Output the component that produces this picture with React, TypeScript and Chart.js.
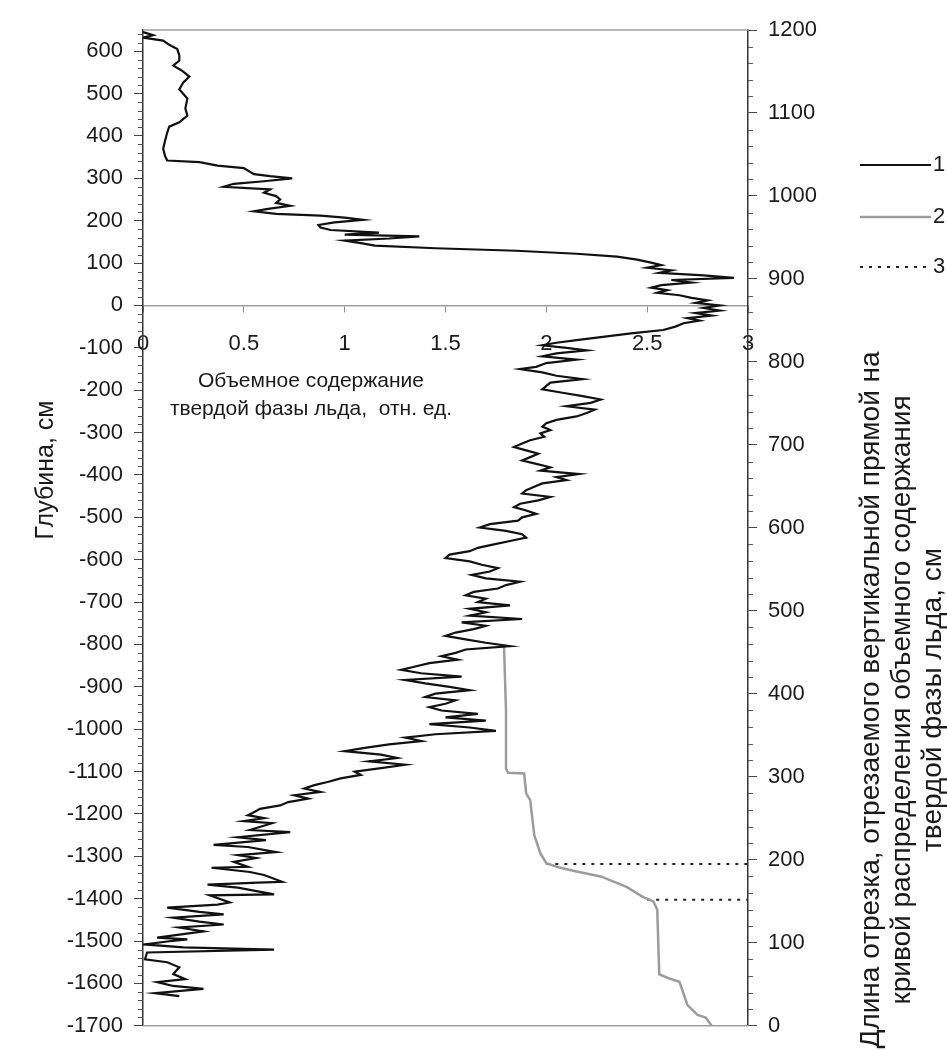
import React, { useEffect, useRef } from "react";
import { Chart, registerables } from "chart.js";

Chart.register(...registerables);

const FONT = "'Liberation Sans', Arial, sans-serif";

// Curve 1: depth of each sample, cm (left axis)
const depthCm = [
  645, 638, 632, 625, 615, 605, 590, 578, 566, 555, 540, 526, 510, 488, 465, 448, 432, 422, 408, 390,
  370, 352, 342, 338, 330, 324, 310, 305, 300, 293, 287, 280, 274, 266, 258, 250, 242, 235, 228, 222,
  216, 212, 207, 202, 196, 190, 184, 178, 172, 167, 163, 158, 153, 147, 141, 135, 129, 122, 115, 108,
  101, 95, 89, 83, 77, 71, 65, 60, 54, 48, 42, 36, 30, 24, 18, 12, 6, 0, -6, -12,
  -18, -24, -30, -36, -42, -50, -58, -66, -74, -82, -88, -94, -100, -106, -113, -120, -128, -136, -145, -150,
  -158, -166, -174, -182, -190, -198, -206, -214, -222, -230, -238, -246, -254, -262, -270, -278, -286, -294, -302, -310,
  -318, -326, -334, -342, -350, -358, -366, -374, -382, -390, -398, -405, -412, -420, -428, -436, -444, -452, -460, -468,
  -476, -484, -492, -500, -508, -516, -524, -532, -540, -548, -556, -564, -572, -580, -588, -596, -604, -612, -620, -628,
  -636, -644, -652, -660, -668, -676, -684, -692, -700, -708, -716, -724, -732, -740, -748, -756, -764, -772, -780, -788,
  -796, -804, -812, -820, -828, -836, -844, -852, -860, -868, -876, -884, -892, -900, -908, -916, -924, -932, -940, -948,
  -956, -964, -972, -980, -988, -996, -1004, -1012, -1020, -1028, -1036, -1044, -1052, -1060, -1068, -1076, -1084, -1092, -1100, -1108,
  -1116, -1124, -1132, -1140, -1148, -1156, -1164, -1172, -1180, -1188, -1196, -1203, -1210, -1217, -1222, -1238, -1243, -1255, -1262, -1273,
  -1278, -1290, -1297, -1304, -1313, -1325, -1327, -1337, -1344, -1360, -1362, -1367, -1374, -1390, -1392, -1409, -1414, -1421, -1431, -1437,
  -1445, -1454, -1461, -1468, -1477, -1492, -1496, -1501, -1508, -1515, -1520, -1527, -1543, -1550, -1562, -1578, -1590, -1597, -1606, -1613,
  -1623, -1630,
];

// Curve 1: volume fraction of the solid ice phase, rel. units
const solidFraction = [
  0.0, 0.05, 0.0, 0.1, 0.13, 0.17, 0.18, 0.18, 0.15, 0.19, 0.23, 0.2, 0.18, 0.22, 0.21, 0.22, 0.18, 0.13, 0.12, 0.11,
  0.1, 0.11, 0.12, 0.28, 0.37, 0.5, 0.55, 0.63, 0.74, 0.6, 0.45, 0.4, 0.63, 0.6, 0.66, 0.68, 0.66, 0.73, 0.62, 0.55,
  0.66, 0.88, 1.0, 1.09, 0.95, 0.87, 0.88, 0.93, 1.17, 1.0, 1.37, 1.22, 1.0, 1.08, 1.15, 1.45, 1.85, 2.15, 2.35, 2.45,
  2.52, 2.57, 2.5, 2.62, 2.56, 2.78, 2.93, 2.62, 2.72, 2.57, 2.52, 2.6, 2.55, 2.66, 2.72, 2.8, 2.74, 2.86, 2.78, 2.86,
  2.74, 2.82, 2.7, 2.76, 2.68, 2.64, 2.58, 2.42, 2.28, 2.15, 2.05, 1.98, 2.1, 2.2, 2.05, 1.98, 2.15, 2.0, 1.95, 1.87,
  1.98, 2.05, 2.18, 2.02, 2.0, 1.98, 2.08, 2.18, 2.27, 2.22, 2.1, 2.24, 2.2, 2.15, 2.05, 2.0, 1.98, 2.02, 1.97, 1.99,
  1.92, 1.88, 1.84, 1.9, 1.96, 1.92, 1.88, 1.95, 2.02, 1.97, 2.16, 2.05, 2.1, 1.98, 1.94, 1.9, 1.88, 2.02, 1.96, 1.87,
  1.84, 1.9, 1.95, 1.88, 1.86, 1.72, 1.67, 1.8, 1.88, 1.9, 1.82, 1.74, 1.66, 1.62, 1.52, 1.5, 1.62, 1.68, 1.76, 1.72,
  1.63, 1.7, 1.87, 1.8, 1.76, 1.64, 1.6, 1.7, 1.66, 1.82, 1.62, 1.7, 1.62, 1.88, 1.58, 1.7, 1.64, 1.55, 1.5, 1.6,
  1.7, 1.82, 1.6, 1.55, 1.48, 1.56, 1.42, 1.35, 1.28, 1.38, 1.58, 1.3, 1.4, 1.52, 1.62, 1.45, 1.4, 1.55, 1.5, 1.42,
  1.48, 1.66, 1.5, 1.7, 1.42, 1.62, 1.75, 1.45, 1.3, 1.38, 1.22, 1.1, 1.0, 1.18, 1.26, 1.12, 1.3, 1.18, 1.05, 1.08,
  0.98, 0.92, 0.85, 0.8, 0.88, 0.75, 0.82, 0.72, 0.68, 0.58, 0.55, 0.52, 0.6, 0.5, 0.64, 0.53, 0.73, 0.47, 0.61, 0.35,
  0.52, 0.66, 0.47, 0.56, 0.45, 0.52, 0.34, 0.53, 0.6, 0.69, 0.57, 0.32, 0.47, 0.65, 0.33, 0.43, 0.37, 0.12, 0.28, 0.4,
  0.15, 0.28, 0.4, 0.18, 0.3, 0.07, 0.22, 0.12, 0.01, 0.2, 0.65, 0.02, 0.01, 0.12, 0.18, 0.15, 0.21, 0.07, 0.15, 0.3,
  0.06, 0.18,
];

// Curve 2: threshold value (bottom axis) and segment length cut at that value, cm (right axis)
const thresholdValue = [
  1.79, 1.8, 1.8, 1.81, 1.89, 1.9, 1.92, 1.94, 1.97, 2.0, 2.06, 2.15, 2.27, 2.4, 2.48, 2.53, 2.55, 2.56, 2.61, 2.66,
  2.7, 2.75, 2.79, 2.82,
];
const segmentLength = [
  458, 380, 310, 305, 304, 280, 272, 230, 208, 196, 191, 186, 180, 167, 155, 150, 140, 62, 57, 53,
  25, 13, 10, 0,
];

// Curve 3: marked segment lengths, cm, with the thresholds where they start
const markLength = [195, 152];
const markFrom = [2.0, 2.5];
const markTo = 3;

const depthMin = -1700;
const depthMax = 650;
const depthLabelTop = 600;
const lengthMin = 0;
const lengthMax = 1200;
const valueMin = 0;
const valueMax = 3;

const legendLabels = ["1", "2", "3"];
const depthTitle = "Глубина, см";
const valueTitle = ["Объемное содержание", "твердой фазы льда,  отн. ед."];
const lengthTitle = [
  "Длина отрезка, отрезаемого вертикальной прямой на",
  "кривой распределения объемного содержания",
  "твердой фазы льда, см",
];

const decorations = {
  id: "decorations",
  beforeDatasetsDraw(chart: any) {
    const { ctx, chartArea: a } = chart;
    const yL = chart.scales.y;
    const yR = chart.scales.y2;
    ctx.save();
    // top and bottom frame
    ctx.strokeStyle = "#a0a0a0";
    ctx.lineWidth = 1.5;
    ctx.beginPath();
    ctx.moveTo(a.left, a.top);
    ctx.lineTo(a.right, a.top);
    ctx.moveTo(a.left, a.bottom);
    ctx.lineTo(a.right, a.bottom);
    ctx.stroke();
    // minor ticks every 20 cm
    ctx.strokeStyle = "#555";
    ctx.lineWidth = 1;
    ctx.beginPath();
    for (let v = depthMin; v < depthMax; v += 20) {
      if (v % 100 === 0) continue;
      const p = Math.round(yL.getPixelForValue(v)) + 0.5;
      ctx.moveTo(a.left - 5, p);
      ctx.lineTo(a.left, p);
    }
    for (let v = lengthMin; v < lengthMax; v += 20) {
      if (v % 100 === 0) continue;
      const p = Math.round(yR.getPixelForValue(v)) + 0.5;
      ctx.moveTo(a.right, p);
      ctx.lineTo(a.right + 5, p);
    }
    ctx.stroke();
    ctx.restore();
  },
  afterDraw(chart: any) {
    const { ctx, chartArea: a } = chart;
    ctx.save();
    ctx.fillStyle = "#1a1a1a";
    ctx.textBaseline = "middle";
    ctx.textAlign = "center";

    // bottom-axis title, placed inside the plot
    ctx.font = `21px ${FONT}`;
    ctx.fillText(valueTitle[0], a.left + 168, 381);
    ctx.fillText(valueTitle[1], a.left + 168, 409);

    // left-axis title
    ctx.font = `25px ${FONT}`;
    ctx.save();
    ctx.translate(46, 470);
    ctx.rotate(-Math.PI / 2);
    ctx.fillText(depthTitle, 0, 0);
    ctx.restore();

    // right-axis title, three lines
    ctx.font = `28px ${FONT}`;
    const rx = [871, 902, 933];
    lengthTitle.forEach((t, i) => {
      ctx.save();
      ctx.translate(rx[i], 700);
      ctx.rotate(-Math.PI / 2);
      ctx.fillText(t, 0, 0);
      ctx.restore();
    });

    // legend
    ctx.font = `22px ${FONT}`;
    const ly = [165, 217, 267];
    const sets = [chart.data.datasets[0], chart.data.datasets[1], chart.data.datasets[2]];
    sets.forEach((ds: any, i: number) => {
      ctx.save();
      ctx.strokeStyle = ds.borderColor;
      ctx.lineWidth = ds.borderWidth;
      ctx.setLineDash(ds.borderDash || []);
      ctx.beginPath();
      ctx.moveTo(860, ly[i]);
      ctx.lineTo(931, ly[i]);
      ctx.stroke();
      ctx.restore();
      ctx.textAlign = "left";
      ctx.fillText(legendLabels[i], 933, ly[i]);
    });
    ctx.restore();
  },
};

export default function App() {
  const ref = useRef<HTMLCanvasElement>(null);

  useEffect(() => {
    if (!ref.current) return;
    const profile = depthCm.map((d, i) => ({ x: solidFraction[i], y: d }));
    const cutLength = thresholdValue.map((v, i) => ({ x: v, y: segmentLength[i] }));
    const marks: any[] = [];
    markLength.forEach((l, i) => {
      if (i > 0) marks.push({ x: markFrom[i], y: null });
      marks.push({ x: markFrom[i], y: l }, { x: markTo, y: l });
    });

    const tickFont = { family: FONT, size: 22 };
    const chart = new Chart(ref.current, {
      type: "scatter",
      data: {
        datasets: [
          {
            data: profile,
            showLine: true,
            borderColor: "#111111",
            borderWidth: 2.2,
            pointRadius: 0,
            xAxisID: "x",
            yAxisID: "y",
          },
          {
            data: cutLength,
            showLine: true,
            borderColor: "#9c9c9c",
            borderWidth: 2.5,
            pointRadius: 0,
            xAxisID: "x",
            yAxisID: "y2",
          },
          {
            data: marks,
            showLine: true,
            spanGaps: false,
            borderColor: "#222222",
            borderWidth: 2,
            borderDash: [3, 6],
            pointRadius: 0,
            xAxisID: "x",
            yAxisID: "y2",
          },
        ],
      } as any,
      options: {
        responsive: false,
        animation: false,
        events: [],
        layout: { padding: { left: 0, right: 0, top: 30, bottom: 18 } },
        plugins: { legend: { display: false }, tooltip: { enabled: false } },
        scales: {
          x: {
            type: "linear",
            position: { y: 0 } as any,
            min: valueMin,
            max: valueMax,
            afterFit: (s: any) => {
              s.height = 0;
            },
            grid: { drawOnChartArea: false, tickLength: 6, color: "#8a8a8a" },
            border: { color: "#a0a0a0", width: 1.5 },
            ticks: {
              stepSize: 0.5,
              padding: 19,
              maxRotation: 0,
              autoSkip: false,
              color: "#1a1a1a",
              font: tickFont,
              callback: (v: any) => String(v),
            },
          },
          y: {
            type: "linear",
            position: "left",
            min: depthMin,
            max: depthMax,
            afterFit: (s: any) => {
              s.width = 143;
            },
            afterBuildTicks: (s: any) => {
              const t: any[] = [];
              for (let v = depthMin; v <= depthLabelTop; v += 100) t.push({ value: v });
              s.ticks = t;
            },
            grid: { drawOnChartArea: false, tickLength: 9, color: "#444" },
            border: { color: "#333", width: 1.5 },
            ticks: {
              padding: 11,
              autoSkip: false,
              color: "#1a1a1a",
              font: tickFont,
              callback: (v: any) => String(v),
            },
          },
          y2: {
            type: "linear",
            position: "right",
            min: lengthMin,
            max: lengthMax,
            afterFit: (s: any) => {
              s.width = 199;
            },
            grid: { drawOnChartArea: false, tickLength: 9, color: "#444" },
            border: { color: "#333", width: 1.5 },
            ticks: {
              stepSize: 100,
              padding: 11,
              autoSkip: false,
              color: "#1a1a1a",
              font: tickFont,
              callback: (v: any) => String(v),
            },
          },
        },
      },
      plugins: [decorations],
    });
    return () => chart.destroy();
  }, []);

  return (
    <div style={{ position: "fixed", left: 0, top: 0, width: 947, height: 1050, background: "#ffffff" }}>
      <canvas ref={ref} width={947} height={1050} />
    </div>
  );
}
